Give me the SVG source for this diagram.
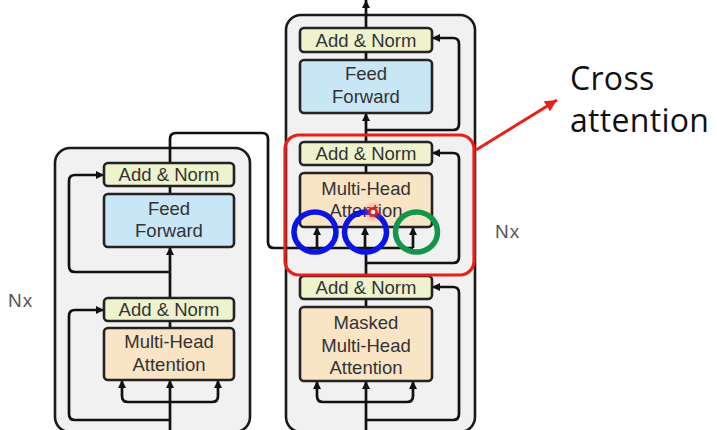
<svg xmlns="http://www.w3.org/2000/svg" width="717" height="430" viewBox="0 0 717 430">
<defs>
<style>
.stack{fill:#f1f1f1;stroke:#1a1a1a;stroke-width:2.6}
.an{fill:#eff3cd;stroke:#222;stroke-width:2.6}
.ff{fill:#c8e6f5;stroke:#222;stroke-width:2.6}
.mha{fill:#fae4c6;stroke:#222;stroke-width:2.6}
.lbl{font-family:"Liberation Sans",Arial,sans-serif;font-size:18.5px;fill:#333;text-anchor:middle}
.nx{font-family:"Liberation Sans",Arial,sans-serif;font-size:19px;fill:#555;letter-spacing:1px}
.ln{fill:none;stroke:#111;stroke-width:2.7}
.big{font-family:"Open Sans","Noto Sans",sans-serif;font-size:32px;fill:#111;letter-spacing:0.3px}
</style>
<marker id="ah" markerUnits="userSpaceOnUse" markerWidth="9" markerHeight="8" refX="8" refY="4" orient="auto">
<path d="M0,0 L8,4 L0,8 z" fill="#111"/>
</marker>
<marker id="rh" markerUnits="userSpaceOnUse" markerWidth="14" markerHeight="12" refX="12" refY="6" orient="auto">
<path d="M0,0 L12,6 L0,12 z" fill="#e8201a"/>
</marker>
<radialGradient id="glow">
<stop offset="0" stop-color="#ff5050" stop-opacity="0.6"/>
<stop offset="1" stop-color="#ff5050" stop-opacity="0"/>
</radialGradient>
</defs>

<rect id="encoder-stack" class="stack" x="55" y="148" width="195" height="284" rx="15"/>
<rect id="decoder-stack" class="stack" x="286" y="15" width="189" height="417" rx="15"/>

<g id="connectors">
<!-- encoder -->
<path class="ln" d="M170,430 V380" marker-end="url(#ah)"/>
<path class="ln" d="M170,402 H128 Q122,402 122,396 V380" marker-end="url(#ah)"/>
<path class="ln" d="M170,402 H212 Q218,402 218,396 V380" marker-end="url(#ah)"/>
<path class="ln" d="M170,420 H75 Q69,420 69,414 V316 Q69,310 75,310 H104" marker-end="url(#ah)"/>
<path class="ln" d="M170,328 V321"/>
<path class="ln" d="M170,298 V247" marker-end="url(#ah)"/>
<path class="ln" d="M170,272 H75 Q69,272 69,266 V181 Q69,175 75,175 H104" marker-end="url(#ah)"/>
<path class="ln" d="M170,194 V186"/>
<path class="ln" d="M170,163 V139 Q170,133 176,133 H262 Q268,133 268,139 V242 Q268,248 274,248 H413"/>
<path class="ln" d="M317,248 V227" marker-end="url(#ah)"/>
<path class="ln" d="M365,248 V227" marker-end="url(#ah)"/>
<path class="ln" d="M413,248 V227" marker-end="url(#ah)"/>
<!-- decoder -->
<path class="ln" d="M366,430 V381" marker-end="url(#ah)"/>
<path class="ln" d="M366,402 H323 Q317,402 317,396 V381" marker-end="url(#ah)"/>
<path class="ln" d="M366,402 H407 Q413,402 413,396 V381" marker-end="url(#ah)"/>
<path class="ln" d="M366,420 H453 Q459,420 459,414 V293 Q459,287 453,287 H432" marker-end="url(#ah)"/>
<path class="ln" d="M366,307 V299"/>
<path class="ln" d="M366,276 V248"/>
<path class="ln" d="M366,263 H453 Q459,263 459,257 V159 Q459,153 453,153 H432" marker-end="url(#ah)"/>
<path class="ln" d="M366,173 V165"/>
<path class="ln" d="M366,142 V113" marker-end="url(#ah)"/>
<path class="ln" d="M366,130 H453 Q459,130 459,124 V44 Q459,38 453,38 H432" marker-end="url(#ah)"/>
<path class="ln" d="M366,60 V52"/>
<path class="ln" d="M366,28 V0" marker-end="url(#ah)"/>
</g>

<!-- encoder nodes -->
<g id="enc-addnorm2"><rect class="an" x="104" y="163" width="130" height="23" rx="4"/><text class="lbl" x="169" y="181">Add &amp; Norm</text></g>
<g id="enc-ff"><rect class="ff" x="104" y="194" width="130" height="53" rx="4"/><text class="lbl" x="169" y="215">Feed</text><text class="lbl" x="169" y="237">Forward</text></g>
<g id="enc-addnorm1"><rect class="an" x="104" y="298" width="130" height="23" rx="4"/><text class="lbl" x="169" y="316">Add &amp; Norm</text></g>
<g id="enc-mha"><rect class="mha" x="104" y="328" width="130" height="52" rx="4"/><text class="lbl" x="169" y="348">Multi-Head</text><text class="lbl" x="169" y="371">Attention</text></g>

<!-- decoder nodes -->
<g id="dec-addnorm3"><rect class="an" x="300" y="28" width="132" height="24" rx="4"/><text class="lbl" x="366" y="46.5">Add &amp; Norm</text></g>
<g id="dec-ff"><rect class="ff" x="300" y="60" width="132" height="53" rx="4"/><text class="lbl" x="366" y="80">Feed</text><text class="lbl" x="366" y="103">Forward</text></g>
<g id="dec-addnorm2"><rect class="an" x="300" y="142" width="132" height="23" rx="4"/><text class="lbl" x="366" y="160">Add &amp; Norm</text></g>
<g id="dec-mha"><rect class="mha" x="300" y="173" width="132" height="54" rx="4"/><text class="lbl" x="366" y="194.5">Multi-Head</text><text class="lbl" x="366" y="216.5">Attention</text></g>
<g id="dec-addnorm1"><rect class="an" x="300" y="276" width="132" height="23" rx="4"/><text class="lbl" x="366" y="294">Add &amp; Norm</text></g>
<g id="dec-masked"><rect class="mha" x="300" y="307" width="132" height="74" rx="4"/><text class="lbl" x="366" y="328.5">Masked</text><text class="lbl" x="366" y="351.5">Multi-Head</text><text class="lbl" x="366" y="373.5">Attention</text></g>

<text class="nx" x="8" y="307">Nx</text>
<text class="nx" x="495" y="238">Nx</text>

<!-- annotations -->
<g id="cross-attention-highlight">
<rect x="285" y="135" width="189" height="140" rx="14" fill="none" stroke="#e8201a" stroke-width="3.2"/>
<ellipse cx="315" cy="232" rx="21" ry="20" fill="none" stroke="#0a14e6" stroke-width="5.5"/>
<ellipse cx="365.5" cy="232" rx="21" ry="20" fill="none" stroke="#0a14e6" stroke-width="5.5"/>
<ellipse cx="416.5" cy="232" rx="21" ry="20" fill="none" stroke="#14964a" stroke-width="5.5"/>
<circle cx="373" cy="212" r="11" fill="url(#glow)"/>
<circle cx="373" cy="212" r="3.5" fill="#fff" stroke="#e8201a" stroke-width="2.5"/>
<path d="M476,150 L557,100" fill="none" stroke="#e8201a" stroke-width="3" marker-end="url(#rh)"/>
</g>
<text class="big" x="570" y="90">Cross</text>
<text class="big" x="570" y="132">attention</text>
</svg>
